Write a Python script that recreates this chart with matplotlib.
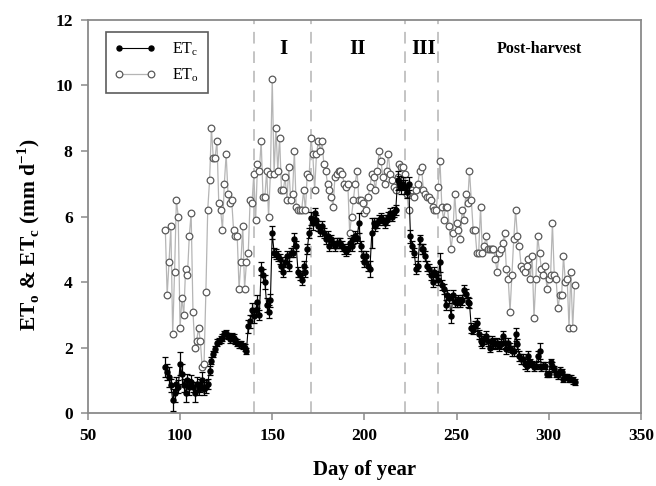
import numpy as np
import matplotlib
matplotlib.use("Agg")
import matplotlib.pyplot as plt
from matplotlib.lines import Line2D

plt.rcParams['font.family'] = ['Liberation Serif', 'DejaVu Serif']
plt.rcParams['mathtext.fontset'] = 'custom'
plt.rcParams['mathtext.rm'] = 'Liberation Serif'
plt.rcParams['mathtext.bf'] = 'Liberation Serif:bold'

first_day = 92

# reference ET (one value per day, day 92 .. 314)
eto = [
    5.6, 3.6, 4.6, 5.7, 2.4, 4.3, 6.5, 6.0,                      # 92-99
    2.6, 3.5, 3.0, 4.4, 4.2, 5.4, 6.1, 3.1, 2.0, 2.2,            # 100-109
    2.6, 2.2, 1.4, 1.5, 3.7, 6.2, 7.1, 8.7, 7.8, 7.8,            # 110-119
    8.3, 6.4, 6.2, 5.6, 7.0, 7.9, 6.7, 6.4, 6.5, 5.6,            # 120-129
    5.4, 5.4, 3.8, 4.6, 5.7, 3.8, 4.6, 4.9, 6.5, 6.4,            # 130-139
    7.3, 5.9, 7.6, 7.4, 8.3, 6.6, 6.6, 7.4, 6.0, 7.3,            # 140-149
    10.2, 7.3, 8.7, 7.4, 8.4, 6.8, 6.8, 7.2, 6.5, 7.5,           # 150-159
    6.5, 6.7, 8.0, 6.3, 6.2, 6.2, 6.2, 6.8, 6.2, 7.3,            # 160-169
    7.2, 8.4, 7.9, 6.8, 7.9, 8.3, 8.0, 8.3, 7.6, 7.4,            # 170-179
    7.0, 6.8, 6.6, 6.3, 7.2, 7.3, 7.4, 7.4, 7.3, 7.0,            # 180-189
    6.9, 7.0, 5.5, 6.0, 6.5, 7.0, 7.4, 6.5, 6.5, 6.4,            # 190-199
    6.1, 6.2, 6.6, 6.9, 7.3, 7.2, 6.8, 7.4, 8.0, 7.7,            # 200-209
    7.2, 7.0, 7.4, 7.9, 7.3, 7.1, 6.9, 6.8, 7.2, 7.6,            # 210-219
    7.5, 7.5, 7.3, 6.7, 6.2, 6.8, 6.8, 6.6, 6.8, 7.0,            # 220-229
    7.4, 7.5, 6.8, 6.7, 6.6, 6.6, 6.5, 6.3, 6.2, 6.2,            # 230-239
    6.9, 7.7, 6.3, 5.9, 6.3, 6.3, 5.7, 5.0, 5.5, 6.7,            # 240-249
    5.8, 5.6, 5.3, 6.2, 5.9, 6.7, 6.4, 7.4, 6.5, 5.6,            # 250-259
    5.6, 4.9, 4.9, 6.3, 4.9, 5.1, 5.4, 5.0, 5.0, 5.0,            # 260-269
    5.0, 4.7, 4.3, 4.9, 5.0, 5.2, 5.5, 4.4, 4.1, 3.1,            # 270-279
    4.2, 5.3, 6.2, 5.4, 5.1, 4.5, 4.4, 4.3, 4.5, 4.7,            # 280-289
    4.1, 4.8, 2.9, 4.1, 5.4, 4.9, 4.4, 4.2, 4.5, 3.8,            # 290-299
    4.1, 4.2, 5.8, 4.2, 4.1, 3.2, 3.6, 3.6, 4.8, 4.0,            # 300-309
    4.1, 2.6, 4.3, 2.6, 3.9,                                     # 310-314
]

# crop ET, daily mean
etc = [
    1.4, 1.25, 1.1, 0.85, 0.4, 0.6, 0.9, 0.8,                    # 92-99
    1.5, 1.2, 0.85, 0.6, 1.0, 0.8, 0.95, 0.8, 0.6, 0.9,          # 100-109
    0.75, 0.85, 1.0, 0.75, 0.8, 0.9, 1.3, 1.6, 1.8, 1.95,        # 110-119
    2.15, 2.2, 2.25, 2.3, 2.4, 2.45, 2.35, 2.25, 2.35, 2.3,      # 120-129
    2.2, 2.15, 2.1, 2.1, 2.05, 2.0, 1.9, 2.65, 2.8, 3.15,        # 130-139
    2.95, 3.15, 3.4, 3.0, 4.4, 4.2, 4.0, 3.3, 3.1, 3.45,         # 140-149
    5.5, 4.9, 4.85, 4.8, 4.7, 4.5, 4.3, 4.6, 4.8, 4.5,           # 150-159
    4.9, 4.9, 5.3, 5.1, 4.3, 4.2, 4.05, 4.5, 4.3, 5.0,           # 160-169
    5.5, 5.95, 5.8, 6.1, 5.9, 5.7, 5.55, 5.7, 5.5, 5.3,          # 170-179
    5.4, 5.1, 5.3, 5.2, 5.1, 5.2, 5.2, 5.2, 5.1, 5.0,            # 180-189
    4.95, 5.0, 5.2, 5.1, 5.3, 5.4, 5.35, 5.8, 5.1, 4.8,          # 190-199
    4.6, 4.8, 4.5, 4.4, 5.5, 5.8, 5.7, 5.8, 5.9, 5.95,           # 200-209
    5.9, 5.8, 5.9, 6.0, 6.1, 6.0, 6.15, 6.2, 7.1, 7.05,          # 210-219
    6.9, 7.0, 6.9, 6.75, 7.0, 5.4, 5.1, 4.9, 4.4, 4.5,           # 220-229
    5.3, 5.0, 5.0, 4.8, 4.5, 4.4, 4.2, 4.0, 4.3, 4.2,            # 230-239
    4.05, 4.6, 3.9, 3.8, 3.3, 3.6, 3.5, 2.95, 3.6, 3.4,          # 240-249
    3.4, 3.45, 3.4, 3.45, 3.75, 3.65, 3.4, 3.35, 2.6, 2.55,      # 250-259
    2.65, 2.75, 2.4, 2.2, 2.15, 2.25, 2.35, 2.2, 2.0, 2.2,       # 260-269
    2.15, 2.1, 2.15, 2.05, 2.1, 2.35, 2.15, 1.95, 2.15, 2.0,     # 270-279
    1.9, 1.9, 2.4, 2.1, 1.75, 1.65, 1.65, 1.5, 1.45, 1.75,       # 280-289
    1.55, 1.5, 1.4, 1.45, 1.75, 1.9, 1.4, 1.45, 1.45, 1.2,       # 290-299
    1.2, 1.55, 1.45, 1.35, 1.2, 1.15, 1.3, 1.25, 1.05, 1.1,      # 300-309
    1.1, 1.05, 1.05, 1.0, 0.95,                                  # 310-314
]

# standard error of ETc
etc_err = [
    0.3, 0.25, 0.3, 0.2, 0.35, 0.25, 0.2, 0.2,
    0.35, 0.3, 0.2, 0.25, 0.2, 0.25, 0.2, 0.15, 0.25, 0.2,
    0.2, 0.2, 0.25, 0.2, 0.2, 0.15, 0.15, 0.1, 0.1, 0.1,
    0.1, 0.1, 0.1, 0.1, 0.1, 0.1, 0.1, 0.1, 0.1, 0.1,
    0.1, 0.1, 0.1, 0.1, 0.1, 0.1, 0.1, 0.2, 0.2, 0.2,
    0.2, 0.2, 0.2, 0.15, 0.2, 0.2, 0.2, 0.2, 0.2, 0.2,
    0.2, 0.15, 0.15, 0.15, 0.15, 0.15, 0.15, 0.15, 0.15, 0.15,
    0.15, 0.15, 0.2, 0.15, 0.15, 0.15, 0.15, 0.15, 0.15, 0.15,
    0.15, 0.2, 0.2, 0.15, 0.15, 0.15, 0.15, 0.15, 0.15, 0.15,
    0.15, 0.15, 0.15, 0.15, 0.15, 0.15, 0.15, 0.15, 0.15, 0.15,
    0.15, 0.15, 0.15, 0.15, 0.15, 0.15, 0.15, 0.3, 0.15, 0.15,
    0.15, 0.15, 0.15, 0.25, 0.45, 0.15, 0.15, 0.15, 0.15, 0.15,
    0.15, 0.15, 0.15, 0.15, 0.15, 0.15, 0.15, 0.15, 0.3, 0.2,
    0.2, 0.2, 0.2, 0.2, 0.2, 0.2, 0.15, 0.15, 0.15, 0.15,
    0.15, 0.15, 0.15, 0.15, 0.15, 0.15, 0.15, 0.15, 0.15, 0.15,
    0.15, 0.3, 0.15, 0.15, 0.15, 0.15, 0.15, 0.2, 0.15, 0.15,
    0.15, 0.15, 0.15, 0.15, 0.15, 0.15, 0.15, 0.15, 0.15, 0.15,
    0.15, 0.15, 0.15, 0.15, 0.15, 0.15, 0.15, 0.15, 0.15, 0.15,
    0.15, 0.15, 0.15, 0.15, 0.15, 0.15, 0.15, 0.15, 0.15, 0.15,
    0.15, 0.15, 0.2, 0.15, 0.15, 0.15, 0.15, 0.15, 0.15, 0.15,
    0.1, 0.1, 0.1, 0.1, 0.15, 0.25, 0.1, 0.1, 0.1, 0.1,
    0.1, 0.1, 0.1, 0.1, 0.1, 0.1, 0.1, 0.1, 0.1, 0.1,
    0.1, 0.1, 0.1, 0.1, 0.1,
]

days = np.arange(first_day, first_day + len(eto))

# growth stage limits (day of year) and labels
stage_bounds = [140, 171, 222, 240]
stage_names = ['I', 'II', 'III', 'Post-harvest']
stage_label_x = [156, 196, 232, 295]

fig = plt.figure(figsize=(6.56, 4.86), dpi=100)
ax = fig.add_axes([0.134, 0.150, 0.843, 0.809])

for b in stage_bounds:
    ax.axvline(b, color='#c4c4c4', ls=(0, (6, 4)), lw=1.4, zorder=1)

eto_style = dict(color='#b5b5b5', lw=0.9, marker='o', ms=4.8,
                 mfc='white', mec='#5a5a5a', mew=0.9)
ax.plot(days, eto, '-', zorder=2, **eto_style)
ax.errorbar(days, etc, yerr=etc_err, fmt='-o', color='black', lw=0.8, ms=3.6,
            elinewidth=0.9, capsize=2.2, capthick=0.9, zorder=3)

for x, name in zip(stage_label_x, stage_names):
    fs = 15 if name != 'Post-harvest' else 11.5
    ax.text(x, 11.1, name, ha='center', va='center', fontsize=fs, fontweight='bold')

ax.set_xlim(50, 350)
ax.set_ylim(0, 12)
ax.set_xticks(np.arange(50, 351, 50))
ax.set_yticks(np.arange(0, 13, 2))

for s in ax.spines.values():
    s.set_color('#8a8a8a')
    s.set_linewidth(1.3)
ax.tick_params(direction='out', length=5, width=1.1, color='#8a8a8a',
               labelsize=12.5, pad=6)
for lab in ax.get_xticklabels() + ax.get_yticklabels():
    lab.set_fontweight('bold')

ax.set_xlabel('Day of year', fontsize=15, fontweight='bold', labelpad=11)
ax.set_ylabel('ET$_\\mathbf{o}$ & ET$_\\mathbf{c}$ (mm d$^\\mathbf{-1}$)',
              fontsize=15.5, fontweight='bold')
ax.yaxis.set_label_coords(-0.083, 0.455)

handles = [
    Line2D([], [], color='black', lw=0.8, marker='o', ms=3.6),
    Line2D([], [], **eto_style),
]
labels = ['ET$_\\mathregular{c}$', 'ET$_\\mathregular{o}$']
leg = ax.legend(handles, labels, loc='upper left', bbox_to_anchor=(0.018, 0.99),
                fontsize=11.5, frameon=True, fancybox=False, edgecolor='#333333',
                handlelength=2.6, numpoints=2, borderpad=0.55, labelspacing=0.5,
                handletextpad=1.0)
leg.get_frame().set_linewidth(1.2)

fig.savefig('out.png', dpi=100)
